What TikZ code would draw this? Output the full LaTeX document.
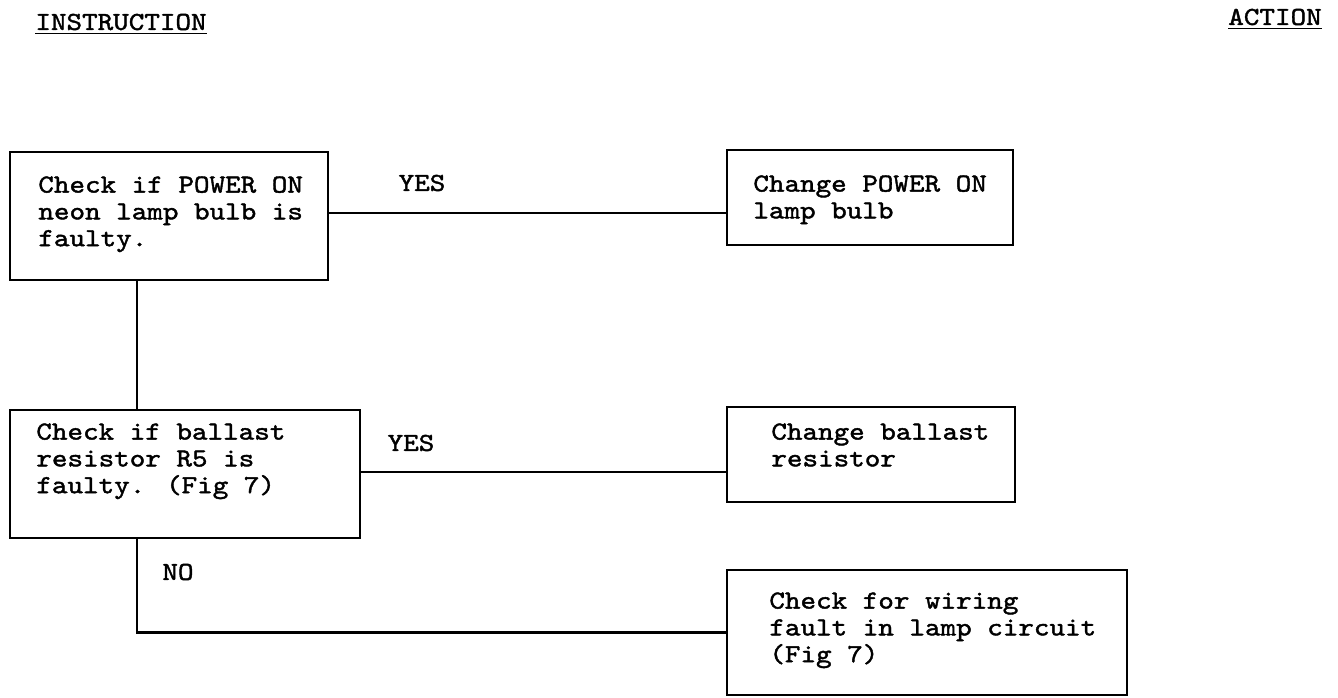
\documentclass[tikz,border=0pt]{standalone}
\usepackage{fontspec}
\newfontfamily\courtype[FakeStretch=1.14,FakeBold=1.6]{lmmono10-regular.otf}
\begin{document}
\begin{tikzpicture}[x=0.5pt, y=-0.5pt, line width=1.4pt,
    stepbox/.style={draw, rectangle, inner sep=0pt},
    boxtext/.style={anchor=north west, inner sep=0pt, align=left, font=\courtype\fontsize{13}{13.4}\selectfont},
    tag/.style={inner sep=0pt, font=\courtype\fontsize{13}{13.4}\selectfont}]
  \useasboundingbox (0,0) rectangle (1338,697);
  % headings
  \node[tag] (instr) at (121,24) {\underline{INSTRUCTION}};
  \node[tag] (act) at (1275,19) {\underline{ACTION}};
  % boxes
  \node[stepbox, minimum width=159pt, minimum height=64pt] (lamp) at (169,216) {};
  \node[stepbox, minimum width=143pt, minimum height=47.5pt] (bulb) at (870,197.5) {};
  \node[stepbox, minimum width=175pt, minimum height=64pt] (ballast) at (185,474) {};
  \node[stepbox, minimum width=144pt, minimum height=47.5pt] (resistor) at (871,454.5) {};
  \node[stepbox, minimum width=200pt, minimum height=62.5pt] (wiring) at (927,632.5) {};
  % box texts
  \node[boxtext] (t-lamp) at (37,175) {Check if POWER ON\\neon lamp bulb is\\faulty.};
  \node[boxtext] (t-bulb) at (752,174) {Change POWER ON\\lamp bulb};
  \node[boxtext] (t-ballast) at (35,422) {Check if ballast\\resistor R5 is\\faulty. (Fig 7)};
  \node[boxtext] (t-resistor) at (770,422) {Change ballast\\resistor};
  \node[boxtext] (t-wiring) at (768,591) {Check for wiring\\fault in lamp circuit\\(Fig 7)};
  % connectors
  \draw ([yshift=1.5pt]lamp.east) -- ([yshift=1.5pt]lamp.east -| bulb.west);
  \draw ([xshift=-16pt]lamp.south) -- ([xshift=-16pt]lamp.south |- ballast.north);
  \draw ([yshift=1pt]ballast.east) -- ([yshift=1pt]ballast.east -| resistor.west);
  \draw ([xshift=-24pt]ballast.south) |- (wiring.west);
  % answers
  \node[tag] (yes1) at (422,183) {YES};
  \node[tag] (yes2) at (411,443) {YES};
  \node[tag] (no) at (178,572) {NO};
\end{tikzpicture}
\end{document}
